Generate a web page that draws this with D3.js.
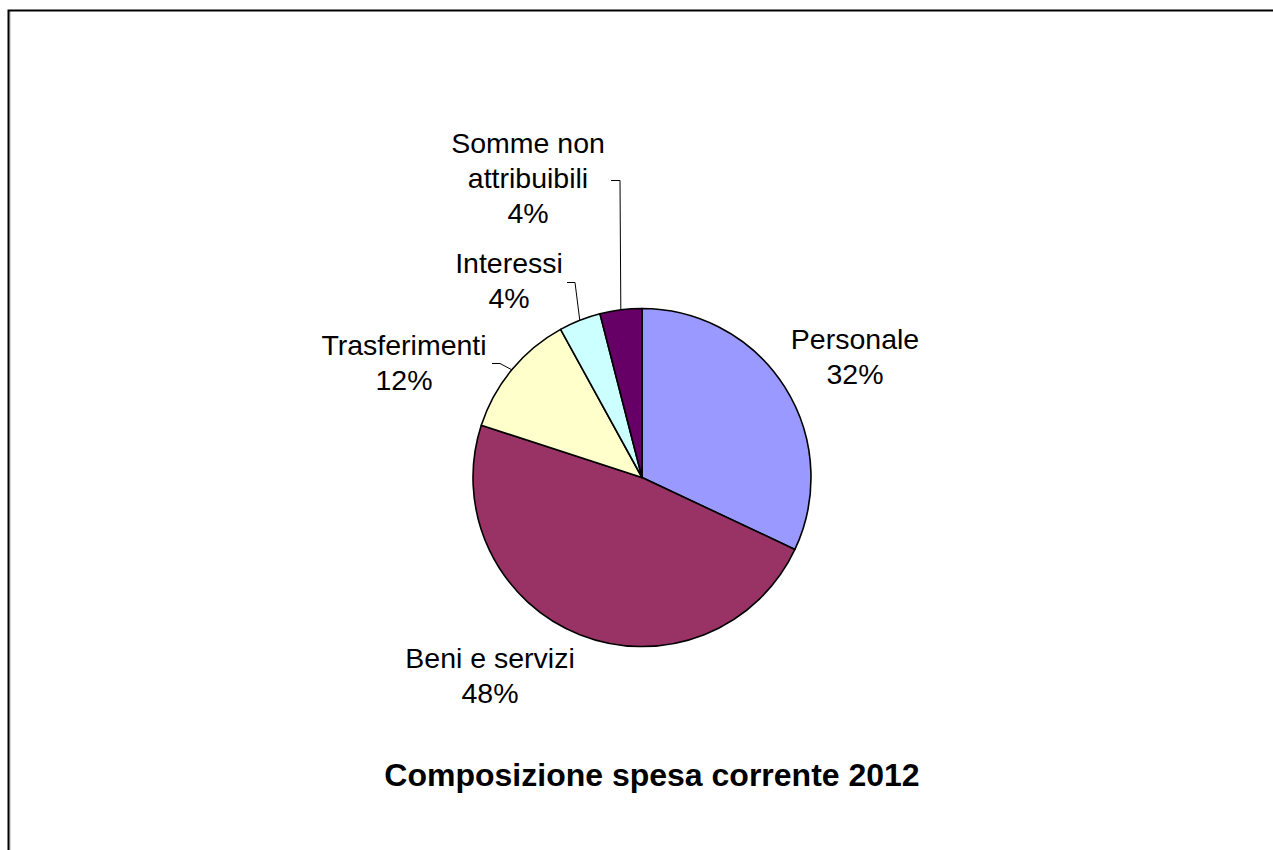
<!DOCTYPE html>
<html><head><meta charset="utf-8">
<script src="https://cdn.jsdelivr.net/npm/d3@7"></script>
<style>
html,body{margin:0;padding:0;background:#fff;}
svg{display:block;}
text{font-family:"Liberation Sans",Arial,sans-serif;fill:#000;}
</style></head>
<body>
<svg id="chart" width="1273" height="850"></svg>
<script>
// ---- data ----
const categories = ["Personale", "Beni e servizi", "Trasferimenti", "Interessi", "Somme non attribuibili"];
const values = [32, 48, 12, 4, 4];
const percentLabels = ["32%", "48%", "12%", "4%", "4%"];
const labelLines = [["Personale"], ["Beni e servizi"], ["Trasferimenti"], ["Interessi"], ["Somme non", "attribuibili"]];
const colors = ["#9999FF", "#993366", "#FFFFCC", "#CCFFFF", "#660066"];
const title = "Composizione spesa corrente 2012";

// ---- layout ----
const W = 1273, H = 850;
const cx = 642, cy = 477.5, R = 169;
const fontSize = 28.5, lineH = 35;
// label placement: text centre x and first baseline y, relative to pie centre
const labelPos = [
  {dx: 213, dy: -128.5},
  {dx: -152, dy: 190.5},
  {dx: -238, dy: -122.5},
  {dx: -133, dy: -204.5},
  {dx: -114, dy: -324.5}
];
// leader elbows (null = no leader), relative to pie centre
const leaders = [
  null,
  null,
  {x0: -150, x1: -142, y: -114},
  {x0: -75, x1: -67, y: -195},
  {x0: -31, x1: -22, y: -297}
];

const svg = d3.select("#chart");

// frame
svg.append("line").attr("x1", 10).attr("x2", 10).attr("y1", 11).attr("y2", H)
  .attr("stroke", "#b0b0b0").attr("stroke-width", 1);
svg.append("rect").attr("x", 8.5).attr("y", 10.5).attr("width", W + 20).attr("height", H + 20)
  .attr("fill", "none").attr("stroke", "#000").attr("stroke-width", 2);

const pie = d3.pie().sort(null).value(d => d)(values);
const arc = d3.arc().innerRadius(0).outerRadius(R);

const g = svg.append("g").attr("transform", `translate(${cx},${cy})`);

g.selectAll("path.slice").data(pie).join("path")
  .attr("class", "slice")
  .attr("d", arc)
  .attr("fill", (d, i) => colors[i])
  .attr("stroke", "#000")
  .attr("stroke-width", 1.6)
  .attr("stroke-linejoin", "round");

// leader lines
pie.forEach((d, i) => {
  const L = leaders[i];
  if (!L) return;
  const a = (d.startAngle + d.endAngle) / 2;
  const px = R * Math.sin(a), py = -R * Math.cos(a);
  g.append("polyline")
    .attr("points", `${L.x0},${L.y} ${L.x1},${L.y} ${px},${py}`)
    .attr("fill", "none").attr("stroke", "#000").attr("stroke-width", 1);
});

// labels
pie.forEach((d, i) => {
  const lines = labelLines[i].concat([percentLabels[i]]);
  const t = g.append("text")
    .attr("text-anchor", "middle")
    .attr("font-size", fontSize);
  lines.forEach((s, k) => {
    t.append("tspan").attr("x", labelPos[i].dx).attr("y", labelPos[i].dy + k * lineH).text(s);
  });
});

// title
svg.append("text")
  .attr("x", 652).attr("y", 786)
  .attr("text-anchor", "middle")
  .attr("font-size", 32).attr("font-weight", "bold")
  .text(title);
</script>
</body></html>
